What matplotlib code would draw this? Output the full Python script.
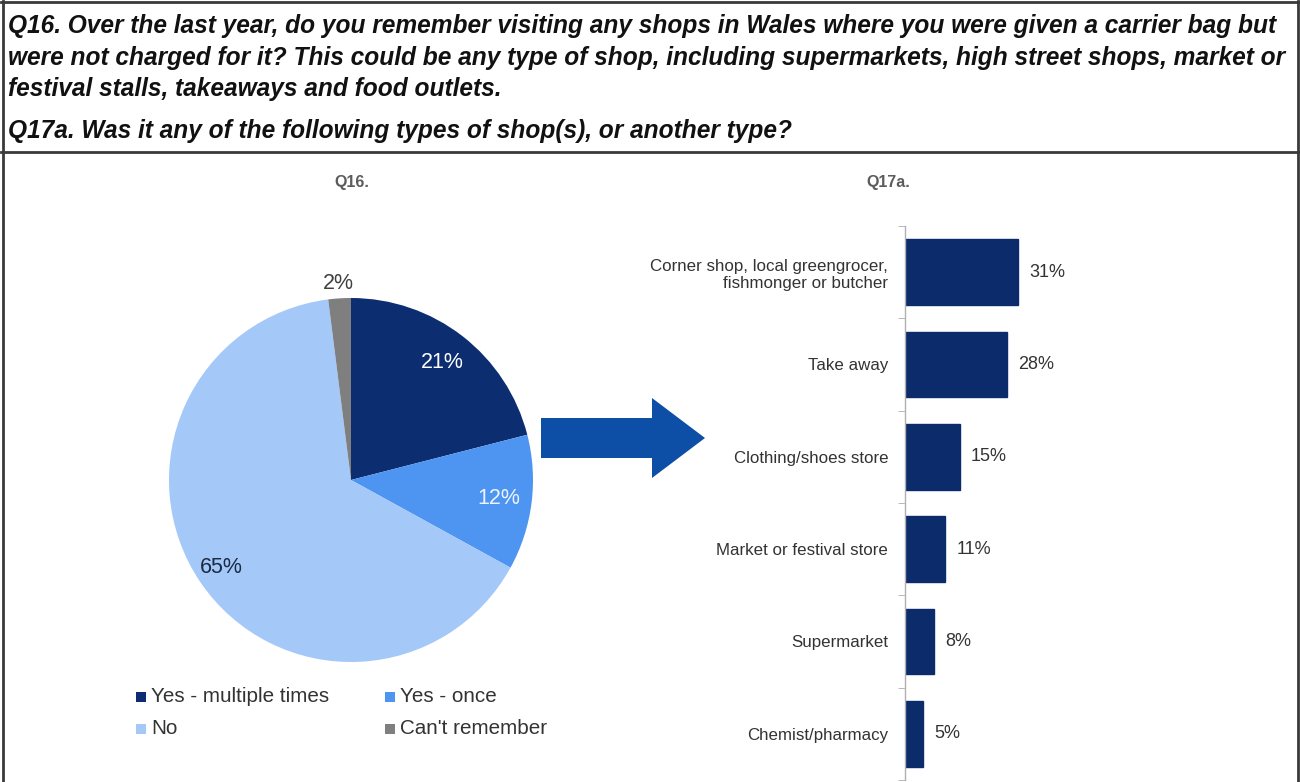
import matplotlib
matplotlib.use("Agg")
import matplotlib.pyplot as plt
from matplotlib.patches import FancyArrow, Rectangle
from matplotlib.lines import Line2D
import numpy as np

# ---- data ----
q16_labels = ["Yes - multiple times", "Yes - once", "No", "Can't remember"]
q16_values = [21, 12, 65, 2]
q16_colors = ["#0c2e70", "#4d95f0", "#a4c8f8", "#7f7f7f"]
q16_label_colors = ["white", "#eef4ff", "#1c2a44", "#404040"]
q16_label_dist = [0.82, 0.82, 0.86, 1.08]

q17_categories = ["Corner shop, local greengrocer,\nfishmonger or butcher",
                  "Take away", "Clothing/shoes store",
                  "Market or festival store", "Supermarket",
                  "Chemist/pharmacy"]
q17_values = [31, 28, 15, 11, 8, 5]

question_lines = [
    "Q16. Over the last year, do you remember visiting any shops in Wales where you were given a carrier bag but",
    "were not charged for it? This could be any type of shop, including supermarkets, high street shops, market or",
    "festival stalls, takeaways and food outlets.",
]
question_17 = "Q17a. Was it any of the following types of shop(s), or another type?"

W, H = 1300, 782
plt.rcParams["font.family"] = ["Liberation Sans", "DejaVu Sans"]
fig = plt.figure(figsize=(W / 100, H / 100), dpi=100)
fig.patch.set_facecolor("white")


def fx(px):
    return px / W


def fy(py):
    return 1 - py / H


# ---- table frame ----
frame_kw = dict(color="#3a3a3a", lw=2.0, transform=fig.transFigure)
fig.add_artist(Line2D([fx(2.5), fx(2.5)], [fy(1), fy(782)], **frame_kw))
fig.add_artist(Line2D([fx(1297.5), fx(1297.5)], [fy(1), fy(782)], **frame_kw))
fig.add_artist(Line2D([fx(1), fx(1299)], [fy(2), fy(2)], **frame_kw))
fig.add_artist(Line2D([fx(1), fx(1299)], [fy(152), fy(152)], **frame_kw))

# ---- question text ----
q_kw = dict(ha="left", va="center", fontsize=17.65, fontweight="bold",
            fontstyle="italic", color="#111111")
for i, line in enumerate(question_lines):
    fig.text(fx(8), fy(26 + 31.5 * i), line, **q_kw)
fig.text(fx(8), fy(131), question_17, **q_kw)

# ---- Q16 pie ----
cx, cy, r = 351, 480, 182
pax = fig.add_axes([fx(cx - r), fy(cy + r), fx(2 * r), (2 * r) / H])
wedges, _ = pax.pie(q16_values, colors=q16_colors, startangle=90,
                    counterclock=False, radius=1.0,
                    wedgeprops=dict(linewidth=0))
pax.set_xlim(-1, 1)
pax.set_ylim(-1, 1)
pax.set_aspect("equal")
pax.axis("off")
for w, v, d, c in zip(wedges, q16_values, q16_label_dist, q16_label_colors):
    ang = np.deg2rad((w.theta1 + w.theta2) / 2)
    pax.text(d * np.cos(ang), d * np.sin(ang), f"{v}%", ha="center",
             va="center", fontsize=15.5, color=c, clip_on=False)

fig.text(fx(352), fy(183), "Q16.", ha="center", va="center", fontsize=11.5,
         fontweight="bold", color="#5c5c5c")

# legend for the pie, laid out in two rows of two
legend_order = [0, 1, 2, 3]
legend_pos = [(141, 697), (390, 697), (141, 729), (390, 729)]
sq = 10
for idx, (lx, ly) in zip(legend_order, legend_pos):
    fig.add_artist(Rectangle((fx(lx - sq / 2), fy(ly + sq / 2)), sq / W, sq / H,
                             facecolor=q16_colors[idx], edgecolor="none",
                             transform=fig.transFigure))
    fig.text(fx(lx + 10), fy(ly), q16_labels[idx], ha="left", va="center",
             fontsize=14.9, color="#333333")

# ---- arrow ----
fig.add_artist(FancyArrow(fx(541), fy(438), fx(164), 0, width=40 / H,
                          head_width=80 / H, head_length=fx(53),
                          length_includes_head=True, color="#0d4ea6",
                          transform=fig.transFigure, lw=0))

# ---- Q17a bars ----
bax = fig.add_axes([fx(905), fy(780), fx(146), 554 / H])
y = np.arange(len(q17_values))
bars = bax.barh(y, q17_values, height=0.71, color="#0b2b6b",
                edgecolor="#0b2b6b")
bax.set_ylim(len(q17_values) - 0.5, -0.5)
bax.set_xlim(0, 40)
for s in ["top", "right", "bottom"]:
    bax.spines[s].set_visible(False)
bax.spines["left"].set_color("#b0b0b0")
bax.spines["left"].set_linewidth(1.0)
bax.set_xticks([])
bax.set_yticks(y)
bax.set_yticklabels(q17_categories, fontsize=12.2, color="#333333",
                    linespacing=1.2)
bax.tick_params(axis="y", which="major", length=0, pad=12)
bax.set_yticks(np.arange(-0.5, len(q17_values), 1.0), minor=True)
bax.tick_params(axis="y", which="minor", length=5, color="#b0b0b0")
for b, v in zip(bars, q17_values):
    bax.annotate(f"{v}%", (b.get_width(), b.get_y() + b.get_height() / 2),
                 xytext=(8, 0), textcoords="offset points",
                 ha="left", va="center", fontsize=13, color="#333333")

fig.text(fx(888), fy(183), "Q17a.", ha="center", va="center", fontsize=11.5,
         fontweight="bold", color="#5c5c5c")

fig.savefig("out.png", dpi=100, facecolor="white")
